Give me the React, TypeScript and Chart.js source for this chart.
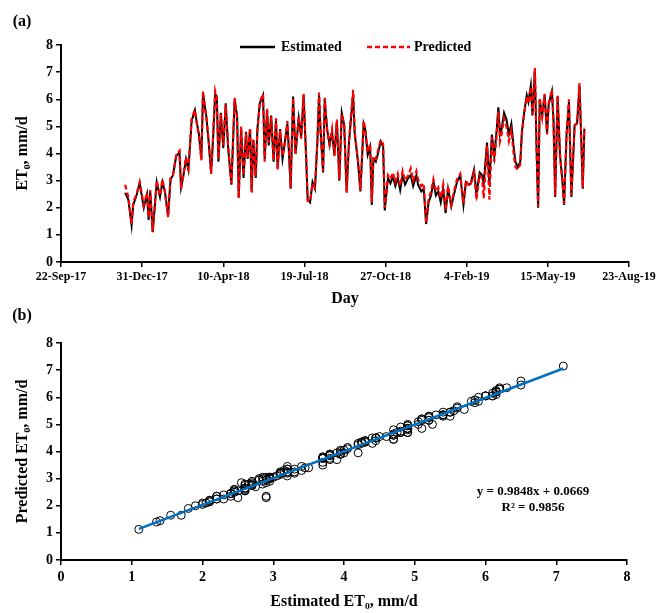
import React, { useEffect, useRef } from 'react';
import { Chart, registerables } from 'chart.js';

Chart.register(...registerables);

const FONT = '"Liberation Serif", "Times New Roman", serif';

const DATE_TICK_LABELS = ['22-Sep-17', '31-Dec-17', '10-Apr-18', '19-Jul-18', '27-Oct-18', '4-Feb-19', '15-May-19', '23-Aug-19'];
const DAY_STEP = 100; // days between date ticks (day 0 = 22-Sep-17)

// day offsets from 22-Sep-17
const DAYS = [
  79, 83, 87, 89, 93, 97, 102, 106, 108, 110, 113, 116, 118, 122, 125, 128, 132, 135, 138, 142,
  146, 148, 151, 154, 157, 159, 161, 165, 167, 170, 173, 175, 179, 182, 185, 187, 190, 192, 194, 197,
  200, 203, 206,
  210, 214, 217, 219, 222, 225, 228, 230, 233, 235, 237, 240, 242, 245, 249, 251, 254, 256, 259, 262,
  265, 267, 270, 273, 276, 279, 281, 283, 286, 289, 293, 296, 299, 302, 304, 307, 310, 313, 316, 318,
  320, 323, 325, 328, 331, 334, 337, 340, 343, 346, 349, 352, 355,
  360, 362, 366, 369, 373, 375, 378, 381, 383, 385, 388, 391, 394, 397, 399, 403, 406, 409, 412, 415,
  418, 421, 424, 428, 431, 434, 438, 440, 444, 447, 450, 453, 456, 459, 462, 465, 468, 471, 474, 477,
  481, 484, 488, 492, 496, 499, 503,
  505, 509, 512, 516, 519, 521, 525, 528, 531, 534, 537, 539, 541, 543, 546, 549, 552, 555, 558, 560,
  563, 566, 568, 571, 574, 576, 579, 581, 584, 586, 588, 590, 593, 596, 599, 601, 605, 607, 609, 612,
  615, 618, 620, 623, 626, 629, 633, 636, 639, 642, 643, 645,
];

const ESTIMATED = [
  2.55, 2.3, 1.35, 2.1, 2.45, 2.9, 2.0, 2.5, 1.55, 2.6, 1.1, 2.2, 2.95, 2.4, 2.95, 2.6, 1.7, 3.05, 3.2, 3.9,
  4.05, 2.75, 3.2, 3.8, 3.4, 4.3, 5.2, 5.6, 5.2, 4.7, 3.8, 6.2, 5.4, 4.4, 3.3, 4.3, 6.2, 6.1, 3.7, 5.5,
  4.2, 5.85, 4.2,
  2.85, 6.0, 5.4, 2.4, 4.9, 3.1, 4.8, 3.8, 4.9, 2.6, 4.5, 3.1, 4.9, 5.85, 6.15, 3.8, 5.6, 4.3, 5.4, 3.7,
  5.2, 3.45, 4.9, 3.8, 4.45, 5.1, 4.0, 2.7, 6.1, 4.0, 5.3, 4.6, 6.15, 3.95, 2.3, 2.2, 2.95, 2.7, 4.45, 6.15,
  4.8, 3.3, 6.0, 4.9, 4.3, 4.8, 3.95, 5.2, 3.0, 5.5, 5.05, 2.6, 4.45,
  6.2, 4.7, 3.7, 2.6, 5.1, 4.9, 3.95, 4.25, 2.1, 3.8, 3.7, 4.05, 4.45, 4.25, 1.9, 3.1, 2.9, 3.15, 2.8, 3.1,
  2.65, 3.2, 2.85, 3.1, 3.2, 2.8, 3.2, 2.85, 2.6, 2.7, 1.4, 2.2, 2.45, 2.95, 2.45, 2.6, 2.2, 2.7, 1.8, 2.7,
  2.05, 2.45, 2.95, 3.2, 2.1, 2.95, 2.85,
  2.9, 3.4, 2.5, 3.3, 3.2, 2.9, 4.4, 2.9, 4.7, 3.9, 4.9, 5.7, 4.7, 4.9, 5.5, 5.25, 4.7, 5.1, 4.2, 3.7,
  3.5, 3.7, 4.8, 5.55, 6.15, 5.9, 6.5, 5.4, 7.1, 4.25, 2.0, 6.0, 5.4, 6.15, 4.75, 5.8, 6.3, 5.2, 2.4, 6.1,
  3.95, 2.95, 2.1, 4.7, 5.9, 2.4, 5.05, 5.1, 6.5, 3.7, 2.7, 4.9,
];

const PREDICTED = [
  2.85, 2.4, 1.4, 2.2, 2.5, 2.95, 2.1, 2.55, 1.65, 2.65, 1.13, 2.25, 3.0, 2.45, 3.05, 2.6, 1.65, 3.1, 3.2, 3.95,
  4.1, 2.7, 3.25, 3.85, 3.45, 4.35, 5.3, 5.6, 5.15, 4.65, 3.75, 6.3, 5.35, 4.5, 3.25, 4.4, 6.3, 6.05, 3.8, 5.45,
  4.3, 5.8, 4.25,
  2.9, 6.05, 5.3, 2.35, 5.0, 3.2, 4.75, 3.85, 4.95, 2.55, 4.55, 3.15, 4.8, 5.9, 6.2, 3.7, 5.65, 4.4, 5.35, 3.75,
  5.3, 3.4, 4.85, 3.9, 4.4, 5.2, 4.05, 2.75, 6.05, 3.95, 5.35, 4.55, 6.2, 4.0, 2.25, 2.25, 2.9, 2.75, 4.5, 6.25,
  4.7, 3.35, 6.05, 4.85, 4.35, 4.9, 3.9, 5.25, 3.05, 5.45, 5.1, 2.55, 4.5,
  6.35, 4.8, 3.75, 2.65, 5.2, 4.85, 4.05, 4.35, 2.2, 3.9, 3.8, 4.15, 4.5, 4.35, 2.0, 3.2, 3.05, 3.3, 2.95, 3.25,
  2.8, 3.35, 3.0, 3.2, 3.45, 3.0, 3.35, 3.05, 2.8, 2.9, 1.45, 2.35, 2.6, 3.05, 2.6, 2.75, 2.35, 2.85, 1.9, 2.8,
  2.1, 2.55, 3.05, 3.25, 2.15, 3.0, 2.8,
  2.85, 3.3, 2.3, 3.2, 3.1, 2.35, 4.3, 2.3, 4.6, 3.7, 4.7, 5.55, 4.45, 4.7, 5.3, 5.0, 4.45, 4.85, 3.95, 3.5,
  3.4, 3.6, 4.7, 5.5, 6.1, 5.85, 6.45, 5.45, 7.15, 4.3, 2.05, 6.05, 5.35, 6.2, 4.7, 5.85, 6.35, 5.15, 2.45, 6.15,
  3.9, 3.0, 2.15, 4.6, 6.0, 2.45, 5.0, 5.15, 6.6, 3.75, 2.75, 4.95,
];

const SLOPE = 0.9848;
const INTERCEPT = 0.0669;
const R2_TEXT = 'R² = 0.9856';
const EQ_TEXT = 'y = 0.9848x + 0.0669';

const bold = (size: number) => ({ family: FONT, size, weight: 'bold' as const });

const tickGrid = {
  display: true,
  drawOnChartArea: false,
  drawTicks: true,
  tickLength: 5,
  color: '#000',
  lineWidth: 1.5,
};

export default function App() {
  const refA = useRef<HTMLCanvasElement>(null);
  const refB = useRef<HTMLCanvasElement>(null);

  useEffect(() => {
    const overlayA = {
      id: 'overlayA',
      afterDraw(chart: any) {
        const ctx = chart.ctx;
        ctx.save();
        ctx.fillStyle = '#000';
        ctx.font = `bold 16px ${FONT}`;
        ctx.textAlign = 'center';
        ctx.textBaseline = 'middle';
        ctx.fillText('(a)', 22, 22);
        // legend
        const ly = 47;
        ctx.font = `bold 14px ${FONT}`;
        ctx.textAlign = 'left';
        ctx.strokeStyle = '#000';
        ctx.lineWidth = 2.5;
        ctx.beginPath();
        ctx.moveTo(240, ly);
        ctx.lineTo(275, ly);
        ctx.stroke();
        ctx.fillText('Estimated', 281, ly);
        ctx.strokeStyle = '#FF0000';
        ctx.setLineDash([5, 3]);
        ctx.beginPath();
        ctx.moveTo(367, ly);
        ctx.lineTo(410, ly);
        ctx.stroke();
        ctx.setLineDash([]);
        ctx.fillText('Predicted', 414, ly);
        ctx.restore();
      },
    };

    const overlayB = {
      id: 'overlayB',
      afterDraw(chart: any) {
        const ctx = chart.ctx;
        ctx.save();
        ctx.fillStyle = '#000';
        ctx.font = `bold 16px ${FONT}`;
        ctx.textAlign = 'center';
        ctx.textBaseline = 'middle';
        ctx.fillText('(b)', 22, 16);
        ctx.font = `bold 13px ${FONT}`;
        ctx.fillText(EQ_TEXT, 533, 192);
        ctx.fillText(R2_TEXT, 533, 208);
        ctx.restore();
      },
    };

    const chartA = new Chart(refA.current!, {
      type: 'line',
      data: {
        datasets: [
          {
            label: 'Predicted',
            data: DAYS.map((d, i) => ({ x: d, y: PREDICTED[i] })),
            borderColor: '#FF0000',
            borderWidth: 2.2,
            borderDash: [5, 3],
            pointRadius: 0,
            tension: 0,
            order: 0,
          },
          {
            label: 'Estimated',
            data: DAYS.map((d, i) => ({ x: d, y: ESTIMATED[i] })),
            borderColor: '#000',
            borderWidth: 2,
            pointRadius: 0,
            tension: 0,
            order: 1,
          },
        ],
      },
      options: {
        animation: false,
        responsive: false,
        maintainAspectRatio: false,
        layout: { padding: { top: 45, right: 43, left: 0, bottom: 0 } },
        plugins: { legend: { display: false }, tooltip: { enabled: false } },
        scales: {
          x: {
            type: 'linear',
            min: 0,
            max: DAY_STEP * (DATE_TICK_LABELS.length - 1),
            afterBuildTicks: (s: any) => {
              s.ticks = DATE_TICK_LABELS.map((_, i) => ({ value: i * DAY_STEP }));
            },
            ticks: {
              callback: (v: any) => DATE_TICK_LABELS[Math.round(Number(v) / DAY_STEP)],
              font: bold(12),
              color: '#000',
              maxRotation: 0,
              autoSkip: false,
              padding: 3,
            },
            grid: tickGrid,
            border: { color: '#000', width: 2 },
            title: { display: true, text: 'Day', font: bold(16), color: '#000', padding: { top: 2, bottom: 2 } },
            afterFit: (s: any) => {
              s.height = 48;
            },
          },
          y: {
            min: 0,
            max: 8,
            ticks: { stepSize: 1, font: bold(14), color: '#000', padding: 3 },
            grid: tickGrid,
            border: { color: '#000', width: 2 },
            title: { display: true, text: 'ET₀, mm/d', font: bold(16), color: '#000', padding: { top: 13, bottom: 0 } },
            afterFit: (s: any) => {
              s.width = 61;
            },
          },
        },
      } as any,
      plugins: [overlayA],
    });

    const minE = Math.min(...ESTIMATED);
    const maxE = Math.max(...ESTIMATED);

    const chartB = new Chart(refB.current!, {
      type: 'scatter',
      data: {
        datasets: [
          {
            type: 'line',
            label: 'Trend',
            data: [
              { x: minE, y: SLOPE * minE + INTERCEPT },
              { x: maxE, y: SLOPE * maxE + INTERCEPT },
            ],
            borderColor: '#0070C0',
            borderWidth: 2.5,
            pointRadius: 0,
            order: 0,
          } as any,
          {
            label: 'Points',
            data: ESTIMATED.map((e, i) => ({ x: e, y: PREDICTED[i] })),
            pointRadius: 4,
            pointBorderColor: '#000',
            pointBackgroundColor: 'rgba(0,0,0,0)',
            pointBorderWidth: 1,
            showLine: false,
            order: 1,
          },
        ],
      },
      options: {
        animation: false,
        responsive: false,
        maintainAspectRatio: false,
        layout: { padding: { top: 43, right: 45, left: 0, bottom: 0 } },
        plugins: { legend: { display: false }, tooltip: { enabled: false } },
        scales: {
          x: {
            type: 'linear',
            min: 0,
            max: 8,
            ticks: { stepSize: 1, font: bold(14), color: '#000', padding: 4 },
            grid: tickGrid,
            border: { color: '#000', width: 2 },
            title: { display: true, text: 'Estimated ET₀, mm/d', font: bold(16), color: '#000', padding: { top: 2, bottom: 2 } },
            afterFit: (s: any) => {
              s.height = 53;
            },
          },
          y: {
            min: 0,
            max: 8,
            ticks: { stepSize: 1, font: bold(14), color: '#000', padding: 3 },
            grid: tickGrid,
            border: { color: '#000', width: 2 },
            title: { display: true, text: 'Predicted ET₀, mm/d', font: bold(16), color: '#000', padding: { top: 13, bottom: 0 } },
            afterFit: (s: any) => {
              s.width = 61;
            },
          },
        },
      } as any,
      plugins: [overlayB],
    });

    return () => {
      chartA.destroy();
      chartB.destroy();
    };
  }, []);

  return (
    <div style={{ position: 'absolute', left: 0, top: 0, width: 672, height: 613, background: '#fff', overflow: 'hidden' }}>
      <canvas ref={refA} width={672} height={310} style={{ position: 'absolute', left: 0, top: 0, width: 672, height: 310 }} />
      <canvas ref={refB} width={672} height={313} style={{ position: 'absolute', left: 0, top: 300, width: 672, height: 313 }} />
    </div>
  );
}
